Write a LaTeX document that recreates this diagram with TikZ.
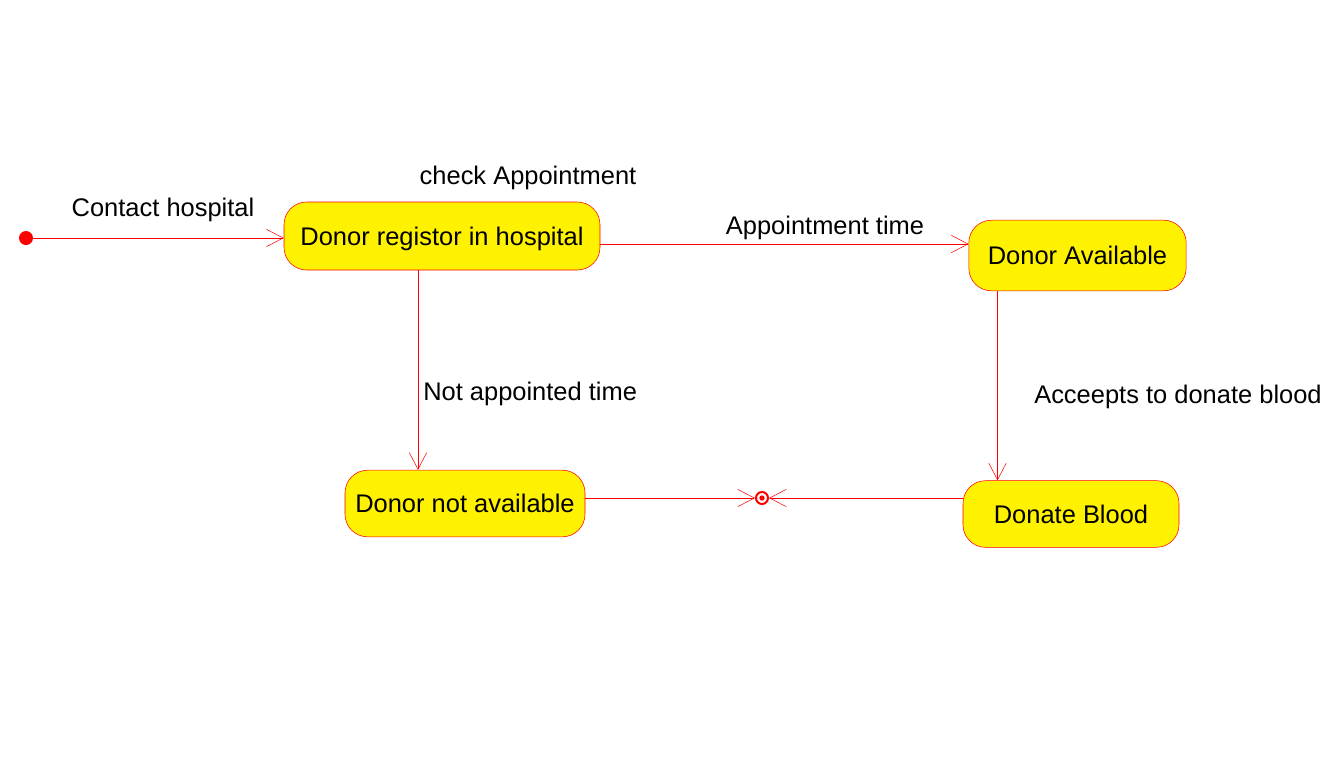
\documentclass[tikz,border=0pt]{standalone}
\usepackage{fontspec}
\setmainfont{Liberation Sans}
\usetikzlibrary{arrows.meta}

\begin{document}
\begin{tikzpicture}[x = 0.75pt, y = -0.75pt,
	state/.style = {draw = red, fill = yellow, rounded corners = 17pt, inner sep = 0pt, text depth = 0pt, font = \fontsize{19.1}{23}\selectfont},
	trans/.style = {draw = red, -{Straight Barb[length = 12.5pt, width = 13pt]}},
	lbl/.style = {font = \fontsize{19.1}{23}\selectfont, inner sep = 0pt}]
	
	\useasboundingbox (0,0) rectangle (1339,775);
	
	\node[circle, fill = red, inner sep = 0pt, minimum size = 10.5pt] (start) at (26,238) {};
	\node[state, minimum width = 237pt, minimum height = 51pt] (reg) at (442,236) {Donor registor in hospital};
	\node[state, minimum width = 163pt, minimum height = 53pt] (avail) at (1077.5,255.5) {Donor Available};
	\node[state, minimum width = 180pt, minimum height = 50pt] (notavail) at (465,503.5) {Donor not available};
	\node[state, minimum width = 162pt, minimum height = 50pt] (blood) at (1071,514) {Donate Blood};
	\node[circle, draw = red, line width = 1.5pt, inner sep = 0pt, minimum size = 9pt] (stop) at (762,498) {};
	\fill[red] (stop) circle (2pt);
	
	\draw[trans] (start) -- (reg.west |- start);
	\draw[trans] ([yshift = -6pt]reg.east) -- ([yshift = -6pt]reg.east -| avail.west);
	\draw[trans] ([xshift = -18pt]reg.south) -- ([xshift = -18pt]reg.south |- notavail.north);
	\draw[trans] ([xshift = -60pt]avail.south) -- ([xshift = -60pt]avail.south |- blood.north);
	\draw[trans] (notavail.east |- stop) -- (stop.west);
	\draw[trans] (blood.west |- stop) -- (stop.east);
	
	\node[lbl] at (163,210) {Contact hospital};
	\node[lbl] at (528,178) {check Appointment};
	\node[lbl] at (825,228) {Appointment time};
	\node[lbl, anchor = west] at (423,394) {Not appointed time};
	\node[lbl, anchor = west] at (1034,397) {Acceepts to donate blood};
\end{tikzpicture}
\end{document}
